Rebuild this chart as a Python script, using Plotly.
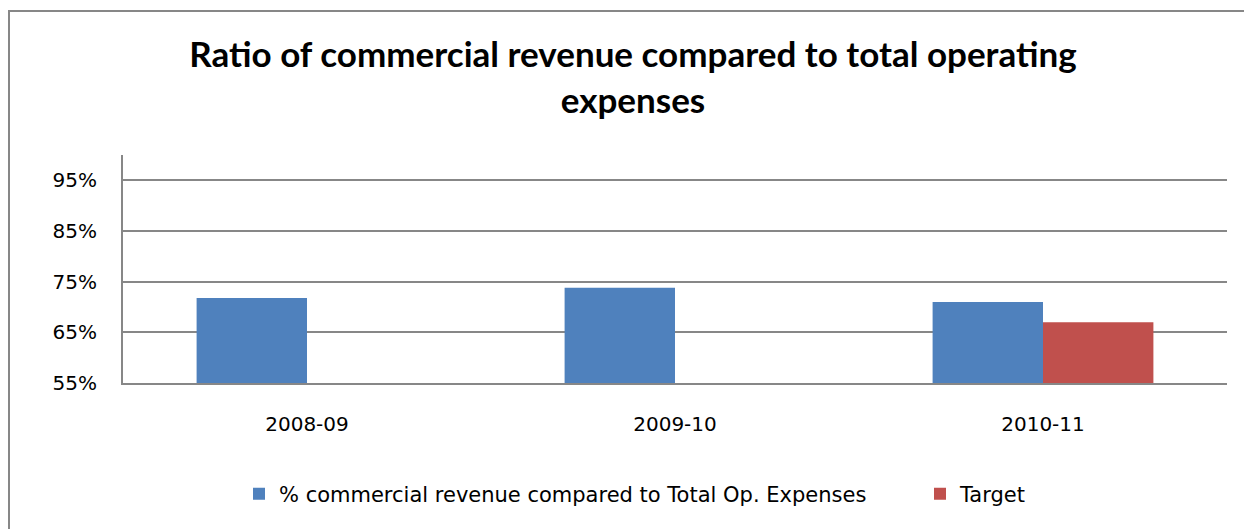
import plotly.graph_objects as go

# Financial years on the category axis
years = ["2008-09", "2009-10", "2010-11"]

# Ratio of commercial revenue to total operating expenses (%)
ratio_pct = [71.8, 73.8, 71.0]

# Target ratio (%), only set for the latest year
target_pct = [None, None, 67.0]

# Y-axis ticks (%)
y_ticks = [55, 65, 75, 85, 95]
y_tick_text = [f"{v}%" for v in y_ticks]

BLUE = "#4F81BD"
RED = "#C0504D"
GREY = "#878787"
BODY_FONT = "'DejaVu Sans', sans-serif"
TITLE_FONT = "Lato, 'Open Sans', sans-serif"

fig = go.Figure()
fig.add_trace(go.Bar(
    x=years, y=ratio_pct, name="% commercial revenue compared to Total Op. Expenses",
    marker=dict(color=BLUE, line=dict(width=0)), legend="legend",
))
fig.add_trace(go.Bar(
    x=years, y=target_pct, name="Target",
    marker=dict(color=RED, line=dict(width=0)), legend="legend2",
))

L, R, T, B = 123, 17, 155, 146
W, H = 1244, 529
pw, ph = W - L - R, H - T - B

legend_y = -(494 - (H - B)) / ph
legend_common = dict(
    orientation="h", xanchor="left", y=legend_y, yanchor="middle",
    font=dict(family=BODY_FONT, size=21, color="#000000"),
    itemclick=False, itemdoubleclick=False, bgcolor="rgba(0,0,0,0)",
)

fig.update_layout(
    width=W, height=H,
    margin=dict(l=L, r=R, t=T, b=B, autoexpand=False),
    paper_bgcolor="white", plot_bgcolor="white",
    barmode="group", bargap=0.4, bargroupgap=0,
    font=dict(family=BODY_FONT, size=20, color="#000000"),
    title=dict(
        text="<b>Ratio of commercial revenue compared to total operating<br>expenses</b>",
        x=(633 - L) / pw, xanchor="center", xref="paper",
        y=1 - 67 / H, yanchor="top", yref="container",
        font=dict(family=TITLE_FONT, size=35, color="#000000"),
    ),
    legend=dict(x=(239 - L) / pw, **legend_common),
    legend2=dict(x=(920 - L) / pw, **legend_common),
    showlegend=True,
)

fig.update_yaxes(
    range=[55, 100], tickvals=y_ticks, ticktext=y_tick_text,
    showgrid=True, gridcolor=GREY, gridwidth=2,
    showline=True, linecolor=GREY, linewidth=2,
    zeroline=False, ticks="", ticklabelstandoff=20, automargin=False,
    tickfont=dict(family=BODY_FONT, size=20),
)
fig.update_xaxes(
    type="category",
    showline=True, linecolor=GREY, linewidth=2,
    showgrid=False, ticks="", ticklabelstandoff=22, automargin=False,
    tickfont=dict(family=BODY_FONT, size=20),
)

# Outer chart frame
fig.add_shape(
    type="rect", xref="paper", yref="paper",
    x0=(9 - L) / pw, x1=(1260 - L) / pw,
    y0=-(540 - (H - B)) / ph, y1=1 + (T - 11) / ph,
    line=dict(color=GREY, width=2), fillcolor="rgba(0,0,0,0)", layer="below",
)

fig.write_html("out.html")
